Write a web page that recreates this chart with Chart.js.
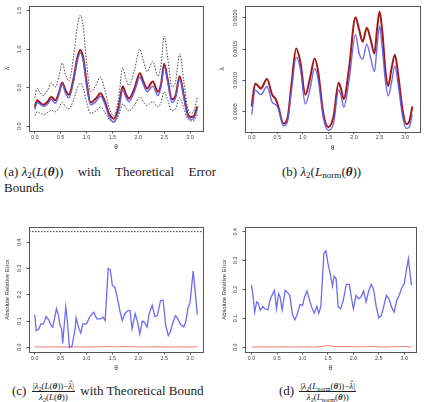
<!DOCTYPE html>
<html>
<head>
<meta charset="utf-8">
<script src="https://cdn.jsdelivr.net/npm/chart.js@4.4.1/dist/chart.umd.min.js"></script>
<style>
  body { margin: 0; background: #fff; }
  #fig { position: relative; width: 425px; height: 402px; overflow: hidden; font-family: 'Liberation Serif', serif; color: #222; }
  canvas { position: absolute; }
  .cap { position: absolute; font-size: 13px; white-space: nowrap; line-height: 1; }
  .cap sub { font-size: 70%; vertical-align: -0.25em; line-height: 0; }
  .just { white-space: normal; text-align: justify; text-align-last: justify; }
  .unit { display: inline-block; }
  .frac { display: inline-flex; flex-direction: column; align-items: center; vertical-align: middle; font-size: 9px; line-height: 1.15; margin: 0 2px; }
  .frac .num { border-bottom: 0.8px solid #222; padding: 0 1px; }
  .hat { position: relative; display: inline-block; }
  .hat::after { content: 'ˆ'; position: absolute; left: 0.12em; top: -0.25em; font-style: normal; }
</style>
</head>
<body>
<div id="fig">
  <canvas id="pa" width="212" height="158" style="left:0;top:0"></canvas>
  <canvas id="pb" width="213" height="158" style="left:212px;top:0"></canvas>
  <canvas id="pc" width="212" height="175" style="left:0;top:200px"></canvas>
  <canvas id="pd" width="213" height="175" style="left:212px;top:200px"></canvas>

  <div class="cap just" style="left:4px;top:165px;width:212px"><span class="unit">(a) <i>λ</i><sub>2</sub>(<i>L</i>(<b><i>θ</i></b>))</span> with Theoretical Error</div>
  <div class="cap" style="left:4px;top:181px">Bounds</div>
  <div class="cap" style="left:282px;top:165px">(b) <i>λ</i><sub>2</sub>(<i>L</i><sub>norm</sub>(<b><i>θ</i></b>))</div>
  <div class="cap" style="left:12px;top:381px">(c) <span class="frac"><span class="num">|<i>λ</i><sub>2</sub>(<i>L</i>(<b><i>θ</i></b>))−<i class="hat">λ</i>|</span><span><i>λ</i><sub>2</sub>(<i>L</i>(<b><i>θ</i></b>))</span></span> with Theoretical Bound</div>
  <div class="cap" style="left:279px;top:381px">(d) <span class="frac"><span class="num">|<i>λ</i><sub>2</sub>(<i>L</i><sub>norm</sub>(<b><i>θ</i></b>))−<i class="hat">λ</i>|</span><span><i>λ</i><sub>2</sub>(<i>L</i><sub>norm</sub>(<b><i>θ</i></b>))</span></span></div>
</div>
<script>
// ---- data ----
const thetaA = [0, 0.05, 0.1, 0.17, 0.25, 0.32, 0.4, 0.47, 0.53, 0.6, 0.66, 0.75, 0.82, 0.88, 0.94, 1.0, 1.08, 1.18, 1.27, 1.35,
  1.44, 1.53, 1.62, 1.7, 1.76, 1.82, 1.93, 2.03, 2.1, 2.17, 2.28, 2.38, 2.44, 2.5, 2.57, 2.65, 2.72, 2.8, 2.88, 2.95, 3.02, 3.08, 3.14]
const redA = [0.25, 0.34, 0.31, 0.28, 0.32, 0.38, 0.34, 0.44, 0.57, 0.46, 0.41, 0.62, 0.88, 0.99, 0.88, 0.58, 0.31, 0.36, 0.43, 0.33,
  0.16, 0.10, 0.25, 0.52, 0.42, 0.36, 0.50, 0.69, 0.58, 0.49, 0.58, 0.45, 0.55, 0.81, 0.60, 0.35, 0.40, 0.65, 0.40, 0.17, 0.12, 0.14, 0.26]
const blueA = [0.22, 0.31, 0.29, 0.26, 0.29, 0.35, 0.30, 0.42, 0.55, 0.42, 0.37, 0.58, 0.84, 0.95, 0.84, 0.54, 0.28, 0.32, 0.39, 0.30,
  0.12, 0.06, 0.20, 0.47, 0.38, 0.32, 0.46, 0.64, 0.54, 0.45, 0.52, 0.40, 0.52, 0.78, 0.57, 0.31, 0.37, 0.61, 0.37, 0.14, 0.09, 0.11, 0.22]
const upperA = [0.37, 0.49, 0.44, 0.40, 0.47, 0.56, 0.51, 0.65, 0.82, 0.66, 0.59, 0.90, 1.28, 1.44, 1.28, 0.84, 0.45, 0.53, 0.64, 0.48,
  0.23, 0.14, 0.37, 0.76, 0.62, 0.53, 0.74, 1.00, 0.85, 0.71, 0.84, 0.65, 0.80, 1.17, 0.88, 0.51, 0.58, 0.94, 0.58, 0.25, 0.17, 0.21, 0.38]
const lowerA = [0.14, 0.19, 0.17, 0.155, 0.18, 0.21, 0.19, 0.245, 0.31, 0.25, 0.23, 0.34, 0.49, 0.56, 0.49, 0.32, 0.17, 0.20, 0.25, 0.19,
  0.09, 0.05, 0.14, 0.29, 0.24, 0.20, 0.28, 0.38, 0.32, 0.27, 0.32, 0.25, 0.31, 0.45, 0.34, 0.20, 0.23, 0.37, 0.23, 0.10, 0.07, 0.08, 0.15]

const thetaB = [0, 0.07, 0.18, 0.3, 0.4, 0.47, 0.52, 0.62, 0.7, 0.78, 0.87, 0.95, 1.05, 1.15, 1.23, 1.3, 1.4, 1.5, 1.6, 1.7,
  1.75, 1.8, 1.9, 2.03, 2.1, 2.17, 2.25, 2.32, 2.4, 2.45, 2.5, 2.55, 2.62, 2.67, 2.73, 2.8, 2.86, 2.95, 3.02, 3.08, 3.14]
const redB = [0.00058, 0.00095, 0.00087, 0.00102, 0.00077, 0.00070, 0.00058, 0.00031, 0.00039, 0.00095, 0.00151, 0.00130, 0.00077, 0.00107,
  0.00135, 0.00114, 0.00047, 0.00025, 0.00042, 0.00096, 0.00085, 0.00070, 0.00117, 0.00201, 0.00181, 0.00162, 0.00184, 0.00167, 0.00143,
  0.00181, 0.00210, 0.00181, 0.00111, 0.00091, 0.00117, 0.00141, 0.00111, 0.00052, 0.00030, 0.00034, 0.00058]
const blueB = [0.00045, 0.00084, 0.00077, 0.00090, 0.00065, 0.00061, 0.00055, 0.00027, 0.00034, 0.00085, 0.00137, 0.00119, 0.00062, 0.00090,
  0.00119, 0.00101, 0.00040, 0.00020, 0.00031, 0.00084, 0.00074, 0.00057, 0.00098, 0.00173, 0.00143, 0.00134, 0.00158, 0.00138, 0.00114,
  0.00154, 0.00187, 0.00154, 0.00095, 0.00075, 0.00095, 0.00123, 0.00095, 0.00042, 0.00023, 0.00025, 0.00045]

const thetaC = [0, 0.03, 0.08, 0.12, 0.17, 0.22, 0.27, 0.32, 0.35, 0.42, 0.46, 0.49, 0.52, 0.54, 0.6, 0.63, 0.67, 0.72, 0.78, 0.8,
  0.85, 0.89, 0.93, 1.0, 1.06, 1.14, 1.2, 1.27, 1.32, 1.36, 1.42, 1.46, 1.5, 1.55, 1.6, 1.65, 1.69, 1.74, 1.8, 1.84,
  1.88, 1.94, 1.98, 2.03, 2.08, 2.12, 2.17, 2.21, 2.27, 2.32, 2.37, 2.43, 2.48, 2.53, 2.58, 2.62, 2.66, 2.72, 2.76, 2.8,
  2.83, 2.88, 2.92, 2.96, 3.0, 3.04, 3.06, 3.1, 3.14]
const blueC = [0.124, 0.064, 0.07, 0.089, 0.089, 0.117, 0.105, 0.083, 0.077, 0.147, 0.121, 0.083, 0.07, 0.015, 0.153, 0.102, 0.0, 0.004, 0.07, 0.112,
  0.074, 0.054, 0.089, 0.089, 0.115, 0.134, 0.108, 0.108, 0.115, 0.102, 0.30, 0.294, 0.236, 0.227, 0.185, 0.134, 0.102, 0.128, 0.140, 0.140,
  0.07, 0.128, 0.102, 0.051, 0.10, 0.096, 0.077, 0.128, 0.160, 0.117, 0.121, 0.179, 0.179, 0.083, 0.045, 0.058, 0.089, 0.121, 0.11, 0.092,
  0.085, 0.078, 0.10, 0.15, 0.17, 0.25, 0.29, 0.21, 0.125]
const boundC = 0.44

const thetaD = [0, 0.03, 0.06, 0.1, 0.13, 0.17, 0.22, 0.26, 0.32, 0.36, 0.4, 0.45, 0.49, 0.53, 0.56, 0.6, 0.66, 0.7, 0.75, 0.8,
  0.85, 0.9, 0.95, 1.0, 1.04, 1.09, 1.13, 1.18, 1.23, 1.28, 1.32, 1.36, 1.42, 1.46, 1.5, 1.55, 1.59, 1.62, 1.66, 1.7,
  1.75, 1.8, 1.86, 1.92, 1.97, 2.0, 2.05, 2.1, 2.15, 2.2, 2.25, 2.3, 2.35, 2.4, 2.45, 2.5, 2.55, 2.6, 2.65, 2.7,
  2.75, 2.8, 2.85, 2.9, 2.95, 3.0, 3.03, 3.08, 3.14]
const blueD = [0.215, 0.174, 0.122, 0.157, 0.153, 0.128, 0.141, 0.133, 0.130, 0.162, 0.18, 0.197, 0.133, 0.186, 0.174, 0.130, 0.197, 0.191, 0.18, 0.116,
  0.095, 0.116, 0.148, 0.145, 0.174, 0.195, 0.168, 0.139, 0.118, 0.141, 0.118, 0.14, 0.325, 0.334, 0.29, 0.25, 0.211, 0.246, 0.238, 0.141,
  0.133, 0.162, 0.218, 0.218, 0.162, 0.133, 0.18, 0.168, 0.174, 0.195, 0.157, 0.195, 0.218, 0.197, 0.139, 0.102, 0.11, 0.145, 0.18, 0.168,
  0.139, 0.122, 0.162, 0.18, 0.206, 0.22, 0.255, 0.307, 0.215]

// small-error series (red) in the bottom panels
const thetaRed = [0, 0.2, 0.4, 0.6, 0.8, 1.0, 1.2, 1.4, 1.5, 1.6, 1.8, 1.85, 2.0, 2.2, 2.4, 2.6, 2.8, 3.0, 3.14]
const redC = [0.002, 0.001, 0.002, 0.001, 0.002, 0.001, 0.002, 0.003, 0.002, 0.002, 0.003, 0.003, 0.001, 0.002, 0.002, 0.001, 0.002, 0.001, 0.002]
const redD = [0.001, 0.002, 0.001, 0.002, 0.001, 0.002, 0.001, 0.003, 0.007, 0.003, 0.003, 0.004, 0.002, 0.002, 0.003, 0.001, 0.002, 0.003, 0.001]

const RED = '#a51818'
const BLUE = 'rgba(92, 92, 236, 0.9)'
const PINK = '#f07a7a'

Chart.defaults.font.family = "'Liberation Sans', Arial, sans-serif"
Chart.defaults.animation = false
Chart.defaults.plugins.legend.display = false
Chart.defaults.plugins.tooltip.enabled = false
Chart.defaults.elements.point.radius = 0

const xy = (xs, ys) => xs.map((x, i) => ({ x, y: ys[i] }))

// R style box round the plot region
const boxPlugin = {
  id: 'rBox',
  afterDraw (chart) {
    const { ctx, chartArea: a } = chart
    ctx.save()
    ctx.strokeStyle = '#555'
    ctx.lineWidth = 1
    ctx.strokeRect(Math.round(a.left) + 0.5, Math.round(a.top) + 0.5, Math.round(a.right - a.left), Math.round(a.bottom - a.top))
    ctx.restore()
  }
}

// y tick labels turned 90 degrees, like R's default las = 0
const yTickPlugin = {
  id: 'rYTicks',
  afterDraw (chart, args, opts) {
    const s = chart.scales.y
    const ctx = chart.ctx
    ctx.save()
    ctx.font = '5.4px ' + Chart.defaults.font.family
    ctx.fillStyle = '#444'
    ctx.textAlign = 'center'
    ctx.textBaseline = 'middle'
    s.ticks.forEach(t => {
      ctx.save()
      ctx.translate(s.right - opts.offset, s.getPixelForValue(t.value))
      ctx.rotate(-Math.PI / 2)
      ctx.fillText(t.label, 0, 0)
      ctx.restore()
    })
    ctx.restore()
  }
}

function panel (id, p) {
  const canvas = document.getElementById(id)
  return new Chart(canvas, {
    type: 'line',
    data: { datasets: p.datasets },
    options: {
      responsive: false,
      layout: { padding: { top: p.boxTop, right: p.boxRight, left: 0, bottom: 0 } },
      plugins: { rYTicks: { offset: 9 } },
      scales: {
        x: {
          type: 'linear',
          min: p.x[0],
          max: p.x[1],
          afterFit: s => { s.height = p.axisBottom },
          border: { display: false },
          grid: { drawOnChartArea: false, tickLength: 2.5, color: '#555' },
          ticks: {
            stepSize: 0.5,
            includeBounds: false,
            padding: 0.5,
            maxRotation: 0,
            font: { size: 5.4 },
            color: '#444',
            callback: v => v.toFixed(1)
          },
          title: { display: true, text: 'θ', font: { size: 6.5 }, color: '#333', padding: { top: 0, bottom: p.xTitlePad } }
        },
        y: {
          min: p.y[0],
          max: p.y[1],
          afterFit: s => { s.width = p.axisLeft },
          border: { display: false },
          grid: { drawOnChartArea: false, tickLength: 2.5, color: '#555' },
          ticks: {
            display: false,
            stepSize: p.yStep,
            includeBounds: false,
            callback: v => v.toFixed(p.yDigits)
          },
          title: { display: true, text: p.yTitle, font: { size: p.yTitleSize }, color: '#333', padding: { top: p.yTitlePad, bottom: 0 } }
        }
      }
    },
    plugins: [boxPlugin, yTickPlugin]
  })
}

const smooth = { cubicInterpolationMode: 'monotone', fill: false }

panel('pa', {
  x: [-0.11, 3.25], y: [-0.06, 1.56], yStep: 0.5, yDigits: 1, yTitle: 'λ', yTitleSize: 6.5,
  boxTop: 6, boxRight: 9, axisLeft: 29, axisBottom: 27, xTitlePad: 7, yTitlePad: 3,
  datasets: [
    { data: xy(thetaA, blueA), borderColor: BLUE, borderWidth: 1.5, ...smooth },
    { data: xy(thetaA, redA), borderColor: RED, borderWidth: 2, ...smooth },
    { data: xy(thetaA, upperA), borderColor: '#333', borderWidth: 0.9, borderDash: [1.5, 1.5], ...smooth },
    { data: xy(thetaA, lowerA), borderColor: '#333', borderWidth: 0.9, borderDash: [1.5, 1.5], ...smooth }
  ]
})

panel('pb', {
  x: [-0.13, 3.29], y: [0.00018, 0.00219], yStep: 0.0005, yDigits: 4, yTitle: 'λ', yTitleSize: 6.5,
  boxTop: 6, boxRight: 5, axisLeft: 33, axisBottom: 26.5, xTitlePad: 6, yTitlePad: 6.8,
  datasets: [
    { data: xy(thetaB, blueB), borderColor: BLUE, borderWidth: 1.4, ...smooth },
    { data: xy(thetaB, redB), borderColor: RED, borderWidth: 2, ...smooth }
  ]
})

panel('pc', {
  x: [-0.11, 3.25], y: [-0.0176, 0.4576], yStep: 0.1, yDigits: 1, yTitle: 'Absolute Relative Error', yTitleSize: 5.9,
  boxTop: 27, boxRight: 9, axisLeft: 29, axisBottom: 23, xTitlePad: 3, yTitlePad: 3.4,
  datasets: [
    { data: xy(thetaC, blueC), borderColor: BLUE, borderWidth: 1.3, tension: 0, fill: false },
    { data: xy(thetaRed, redC), borderColor: PINK, borderWidth: 1, tension: 0, fill: false },
    { data: [{ x: -0.11, y: boundC }, { x: 3.25, y: boundC }], borderColor: '#222', borderWidth: 0.9, borderDash: [1.5, 1.5], fill: false }
  ]
})

panel('pd', {
  x: [-0.13, 3.23], y: [-0.016, 0.416], yStep: 0.1, yDigits: 1, yTitle: 'Absolute Relative Error', yTitleSize: 5.9,
  boxTop: 27, boxRight: 9, axisLeft: 33, axisBottom: 23, xTitlePad: 3, yTitlePad: 8.8,
  datasets: [
    { data: xy(thetaD, blueD), borderColor: BLUE, borderWidth: 1.3, tension: 0, fill: false },
    { data: xy(thetaRed, redD), borderColor: PINK, borderWidth: 1, tension: 0, fill: false }
  ]
})
</script>
</body>
</html>
